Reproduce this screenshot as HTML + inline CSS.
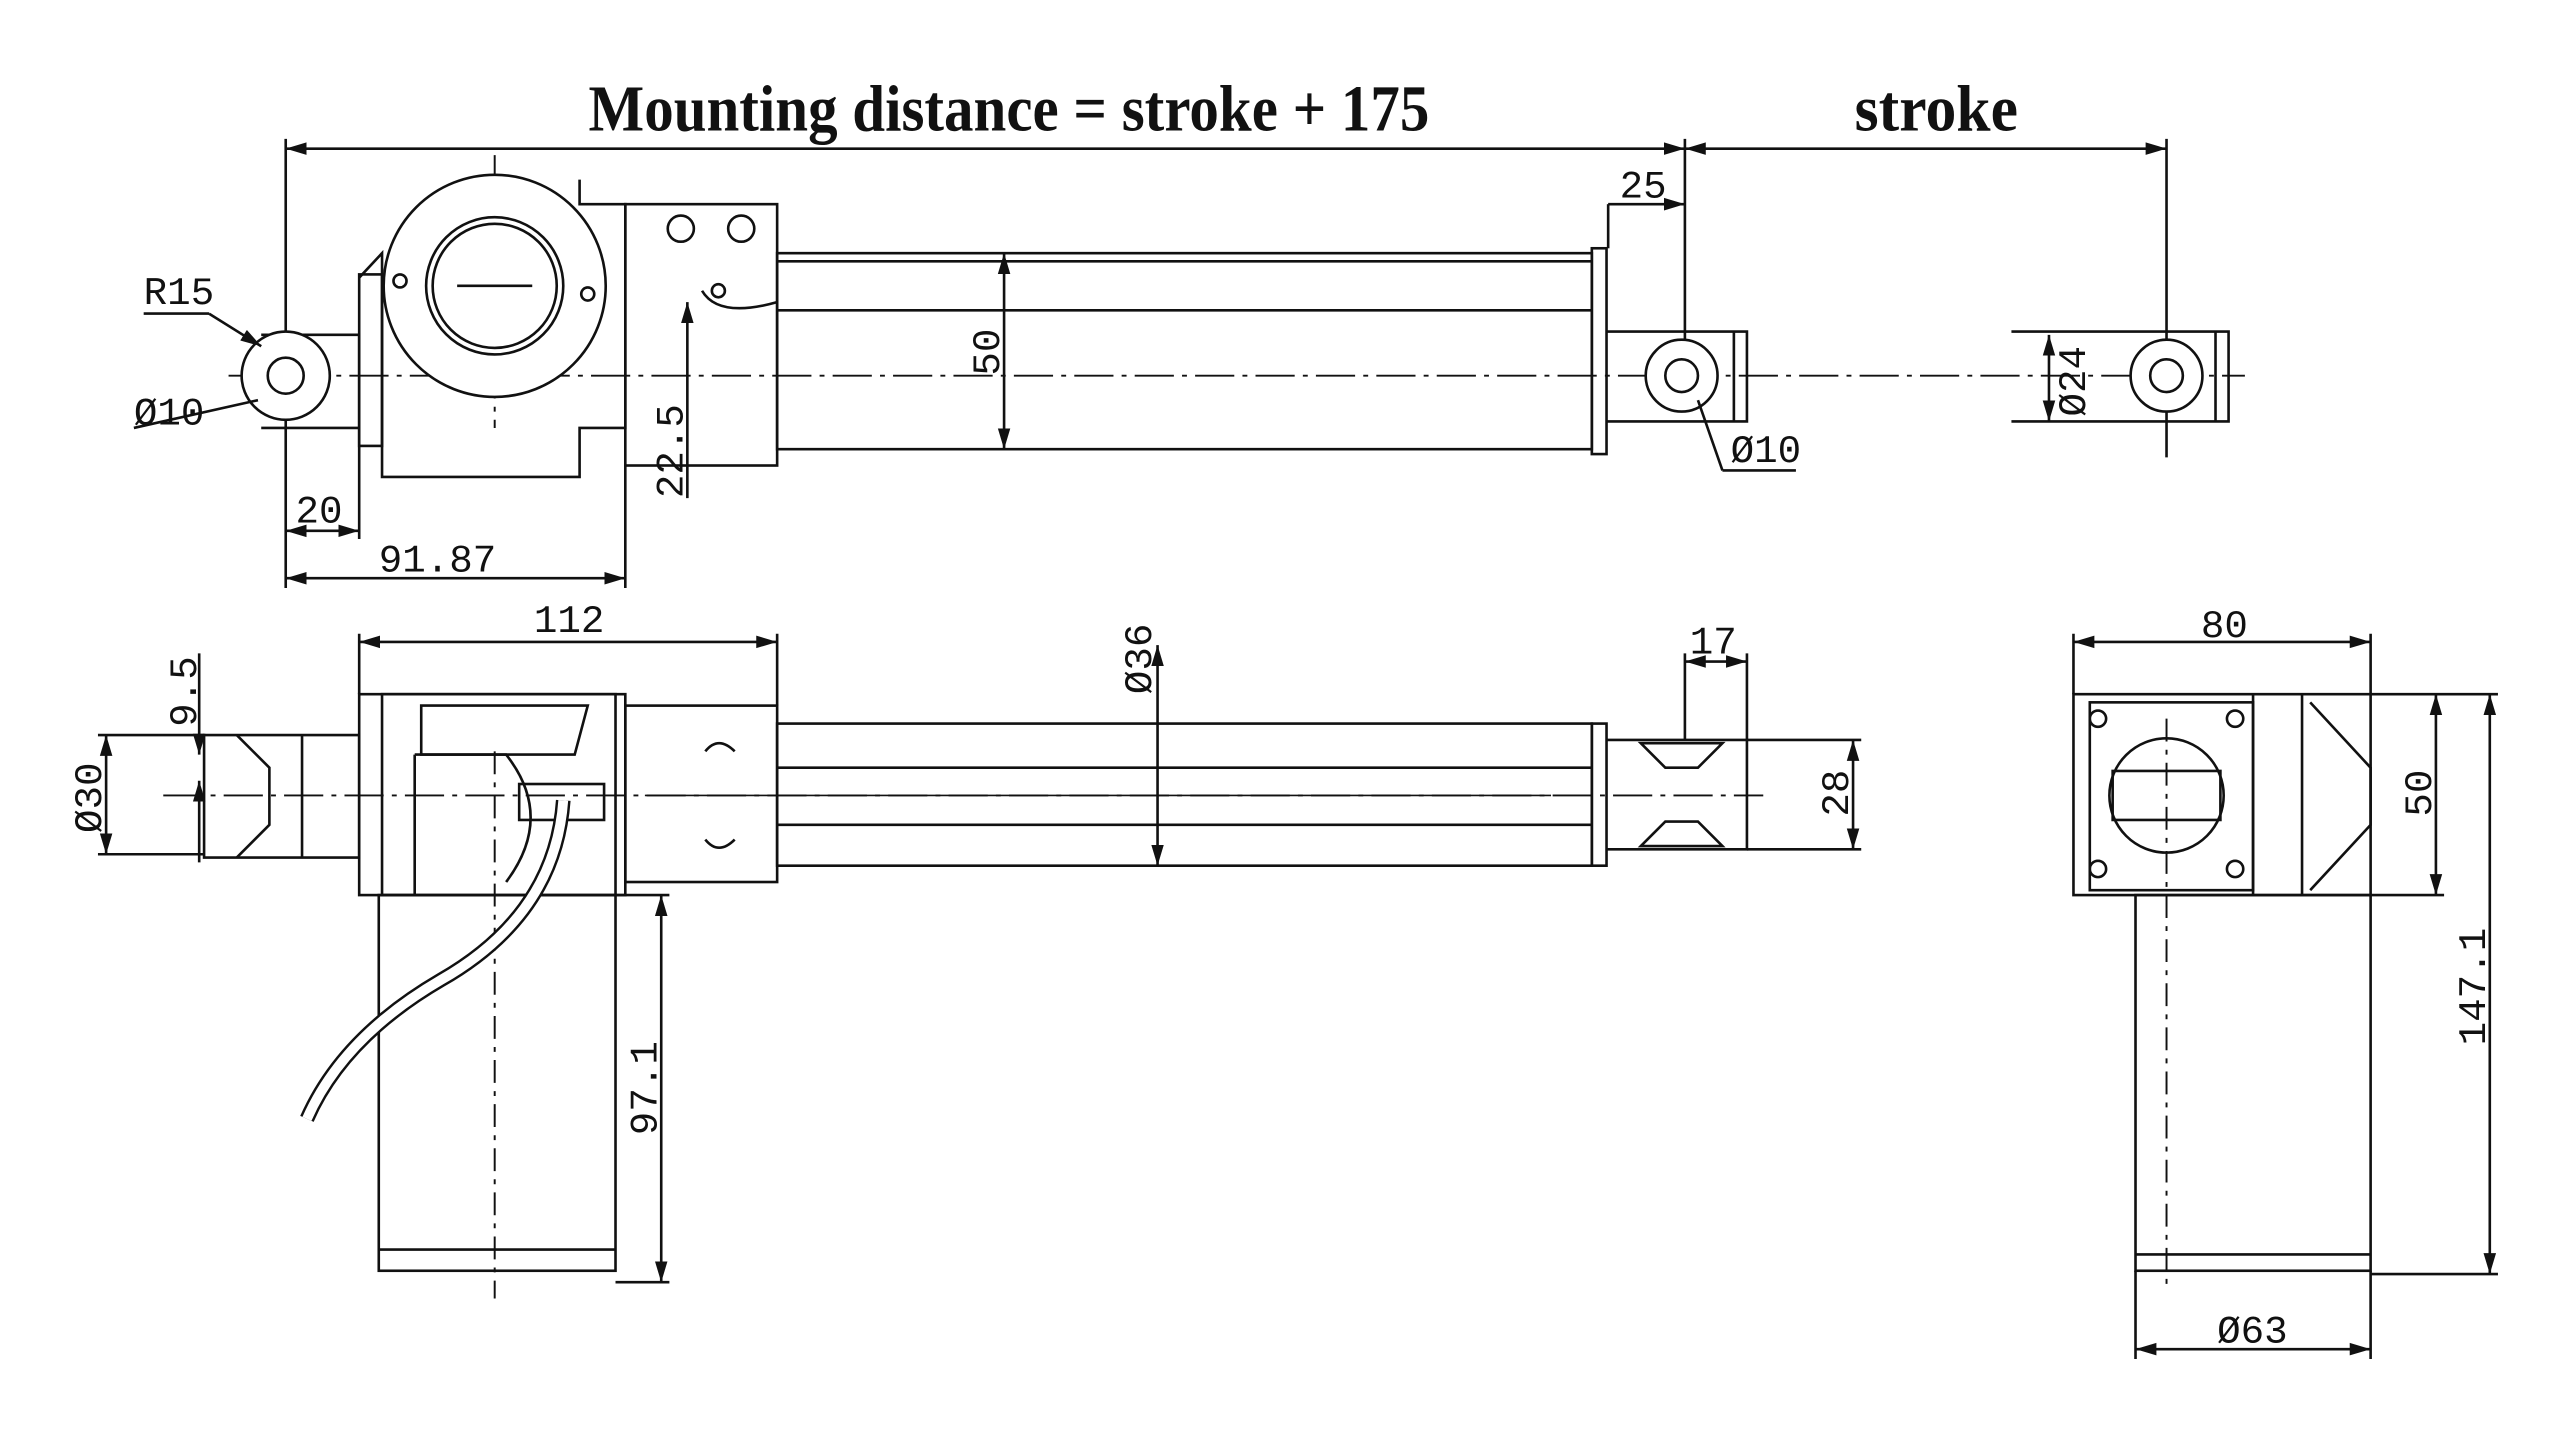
<!DOCTYPE html>
<html><head><meta charset="utf-8"><style>
html,body{margin:0;padding:0;background:#fff;}
svg{display:block;}
text{font-family:"Liberation Mono","DejaVu Sans Mono",monospace;fill:#111;}
.t{font-family:"Liberation Serif",serif;font-weight:bold;}
</style></head><body>
<svg width="2560" height="1439" viewBox="0 0 1568 881" preserveAspectRatio="none" xmlns="http://www.w3.org/2000/svg">
<defs>
<marker id="a" viewBox="0 0 10 10" refX="10" refY="5" markerWidth="8" markerHeight="8" orient="auto-start-reverse"><path d="M0,2 L10,5 L0,8 z" fill="#111"/></marker>
</defs>
<rect width="1568" height="881" fill="#fff"/>
<g stroke="#111" stroke-width="1.6" fill="none">
<!-- Title dims -->
<line x1="175" y1="91" x2="1032" y2="91" marker-start="url(#a)" marker-end="url(#a)"/>
<line x1="1032" y1="91" x2="1327" y2="91" marker-start="url(#a)" marker-end="url(#a)"/>
<line x1="175" y1="85" x2="175" y2="360"/>
<line x1="1032" y1="85" x2="1032" y2="210"/>
<line x1="1327" y1="85" x2="1327" y2="280"/>
<!-- centerline top -->
<line x1="140" y1="230" x2="1375" y2="230" stroke-dasharray="24,5,3,5" stroke-width="1.2"/>
<line x1="303" y1="95" x2="303" y2="262" stroke-dasharray="14,5,3,5" stroke-width="1.2"/>
<!-- rear clevis top -->
<path d="M160,205 L220,205 L220,262 L160,262"/>
<circle cx="175" cy="230" r="27" fill="#fff"/>
<circle cx="175" cy="230" r="11"/>
<line x1="128" y1="192" x2="160" y2="212" marker-end="url(#a)"/>
<line x1="88" y1="192" x2="128" y2="192"/>
<line x1="158" y1="245" x2="82" y2="262"/>
<!-- gearbox top -->
<path d="M220,170 L234,155 L234,292 L355,292 L355,262 L383,262 L383,125 L355,125 L355,110"/>
<rect x="220" y="168" width="14" height="105"/>
<circle cx="303" cy="175" r="68" fill="#fff"/>
<circle cx="303" cy="175" r="42"/>
<circle cx="303" cy="175" r="38"/>
<line x1="280" y1="175" x2="326" y2="175"/>
<rect x="383" y="125" width="93" height="160"/>
<circle cx="417" cy="140" r="8"/><circle cx="454" cy="140" r="8"/>
<circle cx="245" cy="172" r="4"/><circle cx="360" cy="180" r="4"/><circle cx="440" cy="178" r="4"/>
<path d="M430,178 Q440,195 476,185"/>
<!-- tube -->
<rect x="476" y="155" width="499" height="120"/>
<line x1="476" y1="160" x2="975" y2="160"/>
<line x1="476" y1="190" x2="975" y2="190"/>
<rect x="975" y="152" width="9" height="126"/>
<path d="M984,203 L1070,203 L1070,258 L984,258"/>
<line x1="1062" y1="203" x2="1062" y2="258"/>
<circle cx="1030" cy="230" r="22" fill="#fff"/><circle cx="1030" cy="230" r="10"/>
<path d="M1232,203 L1365,203 L1365,258 L1232,258"/>
<line x1="1357" y1="203" x2="1357" y2="258"/>
<circle cx="1327" cy="230" r="22" fill="#fff"/><circle cx="1327" cy="230" r="10"/>
<line x1="1040" y1="245" x2="1055" y2="288"/><line x1="1055" y1="288" x2="1100" y2="288"/>
<!-- top dims -->
<line x1="615" y1="155" x2="615" y2="275" marker-start="url(#a)" marker-end="url(#a)"/>
<line x1="421" y1="185" x2="421" y2="305" marker-start="url(#a)"/>
<line x1="175" y1="325" x2="220" y2="325" marker-start="url(#a)" marker-end="url(#a)"/>
<line x1="220" y1="262" x2="220" y2="330"/>
<line x1="175" y1="354" x2="383" y2="354" marker-start="url(#a)" marker-end="url(#a)"/>
<line x1="383" y1="285" x2="383" y2="360"/>
<line x1="985" y1="125" x2="1032" y2="125" marker-end="url(#a)"/>
<line x1="985" y1="125" x2="985" y2="152"/>
<line x1="1255" y1="205" x2="1255" y2="258" marker-start="url(#a)" marker-end="url(#a)"/>
<!-- bottom view -->
<line x1="220" y1="393" x2="476" y2="393" marker-start="url(#a)" marker-end="url(#a)"/>
<line x1="220" y1="388" x2="220" y2="425"/><line x1="476" y1="388" x2="476" y2="432"/>
<line x1="100" y1="487" x2="1080" y2="487" stroke-dasharray="24,5,3,5" stroke-width="1.2"/>
<rect x="220" y="425" width="163" height="123"/>
<rect x="234" y="425" width="143" height="123"/>
<path d="M258,432 L360,432 L352,462 L258,462 Z"/>
<path d="M254,462 L254,548 M254,462 L310,462 Q340,500 310,540"/>
<rect x="383" y="432" width="93" height="108"/>
<path d="M432,460 Q440,450 450,460 M432,514 Q440,524 450,514"/>
<rect x="318" y="480" width="52" height="22"/>
<rect x="476" y="443" width="499" height="87"/>
<line x1="476" y1="470" x2="975" y2="470"/><line x1="476" y1="505" x2="975" y2="505"/>
<line x1="395" y1="487" x2="950" y2="487" stroke-width="1"/>
<rect x="975" y="443" width="9" height="87"/>
<path d="M984,453 L1070,453 L1070,520 L984,520"/>
<path d="M1005,455 L1055,455 L1040,470 L1020,470 Z"/>
<path d="M1005,518 L1055,518 L1040,503 L1020,503 Z"/>
<path d="M125,450 L220,450 L220,525 L125,525 Z"/>
<path d="M145,450 L165,470 L165,505 L145,525"/>
<line x1="185" y1="450" x2="185" y2="525"/>
<rect x="232" y="548" width="145" height="230"/>
<line x1="232" y1="765" x2="377" y2="765"/>
<line x1="303" y1="460" x2="303" y2="795" stroke-dasharray="14,5,3,5" stroke-width="1.2"/>
<path d="M345,490 Q340,560 270,600 Q210,635 188,685" stroke-width="9" stroke="#111"/>
<path d="M345,490 Q340,560 270,600 Q210,635 188,685" stroke-width="6" stroke="#fff"/>
<line x1="65" y1="450" x2="65" y2="523" marker-start="url(#a)" marker-end="url(#a)"/>
<line x1="60" y1="450" x2="125" y2="450"/><line x1="60" y1="523" x2="125" y2="523"/>
<line x1="122" y1="400" x2="122" y2="462" marker-end="url(#a)"/>
<line x1="122" y1="528" x2="122" y2="478" marker-end="url(#a)"/>
<line x1="709" y1="395" x2="709" y2="530" marker-start="url(#a)" marker-end="url(#a)"/>
<line x1="1032" y1="405" x2="1070" y2="405" marker-start="url(#a)" marker-end="url(#a)"/>
<line x1="1032" y1="400" x2="1032" y2="453"/><line x1="1070" y1="400" x2="1070" y2="453"/>
<line x1="1135" y1="453" x2="1135" y2="520" marker-start="url(#a)" marker-end="url(#a)"/>
<line x1="1070" y1="453" x2="1140" y2="453"/><line x1="1070" y1="520" x2="1140" y2="520"/>
<line x1="405" y1="548" x2="405" y2="785" marker-start="url(#a)" marker-end="url(#a)"/>
<line x1="377" y1="548" x2="410" y2="548"/><line x1="377" y1="785" x2="410" y2="785"/>
<!-- side view -->
<line x1="1270" y1="393" x2="1452" y2="393" marker-start="url(#a)" marker-end="url(#a)"/>
<line x1="1270" y1="388" x2="1270" y2="425"/><line x1="1452" y1="388" x2="1452" y2="425"/>
<rect x="1270" y="425" width="182" height="123"/>
<rect x="1280" y="430" width="100" height="115"/>
<path d="M1380,425 L1380,548 M1410,425 L1410,548 M1415,430 L1452,470 L1452,505 L1415,545"/>
<circle cx="1285" cy="440" r="5"/><circle cx="1369" cy="440" r="5"/>
<circle cx="1285" cy="532" r="5"/><circle cx="1369" cy="532" r="5"/>
<circle cx="1327" cy="487" r="35"/>
<rect x="1294" y="472" width="66" height="30"/>
<line x1="1327" y1="440" x2="1327" y2="790" stroke-dasharray="14,5,3,5" stroke-width="1.2"/>
<rect x="1308" y="548" width="144" height="230"/>
<line x1="1308" y1="768" x2="1452" y2="768"/>
<line x1="1492" y1="425" x2="1492" y2="548" marker-start="url(#a)" marker-end="url(#a)"/>
<line x1="1452" y1="425" x2="1530" y2="425"/><line x1="1452" y1="548" x2="1497" y2="548"/>
<line x1="1525" y1="425" x2="1525" y2="780" marker-start="url(#a)" marker-end="url(#a)"/>
<line x1="1452" y1="780" x2="1530" y2="780"/>
<line x1="1308" y1="826" x2="1452" y2="826" marker-start="url(#a)" marker-end="url(#a)"/>
<line x1="1308" y1="778" x2="1308" y2="832"/><line x1="1452" y1="778" x2="1452" y2="832"/>
</g>
<!-- text -->
<text class="t" x="618" y="80" font-size="40" text-anchor="middle" textLength="515" lengthAdjust="spacingAndGlyphs">Mounting distance = stroke + 175</text>
<text class="t" x="1186" y="80" font-size="40" text-anchor="middle" textLength="100" lengthAdjust="spacingAndGlyphs">stroke</text>
<g font-size="24">
<text x="88" y="186">R15</text>
<text x="82" y="260">Ø10</text>
<text x="181" y="320">20</text>
<text x="232" y="350">91.87</text>
<text x="992" y="121">25</text>
<text x="1060" y="283">Ø10</text>
<text x="327" y="387">112</text>
<text x="1035" y="400">17</text>
<text x="1348" y="390">80</text>
<text x="1358" y="822">Ø63</text>
<text transform="translate(612,230) rotate(-90)">50</text>
<text transform="translate(418,305) rotate(-90)">22.5</text>
<text transform="translate(1277,255) rotate(-90)">Ø24</text>
<text transform="translate(120,445) rotate(-90)">9.5</text>
<text transform="translate(62,510) rotate(-90)">Ø30</text>
<text transform="translate(705,425) rotate(-90)">Ø36</text>
<text transform="translate(1132,500) rotate(-90)">28</text>
<text transform="translate(402,695) rotate(-90)">97.1</text>
<text transform="translate(1489,500) rotate(-90)">50</text>
<text transform="translate(1522,640) rotate(-90)">147.1</text>
</g>
</svg>
</body></html>
